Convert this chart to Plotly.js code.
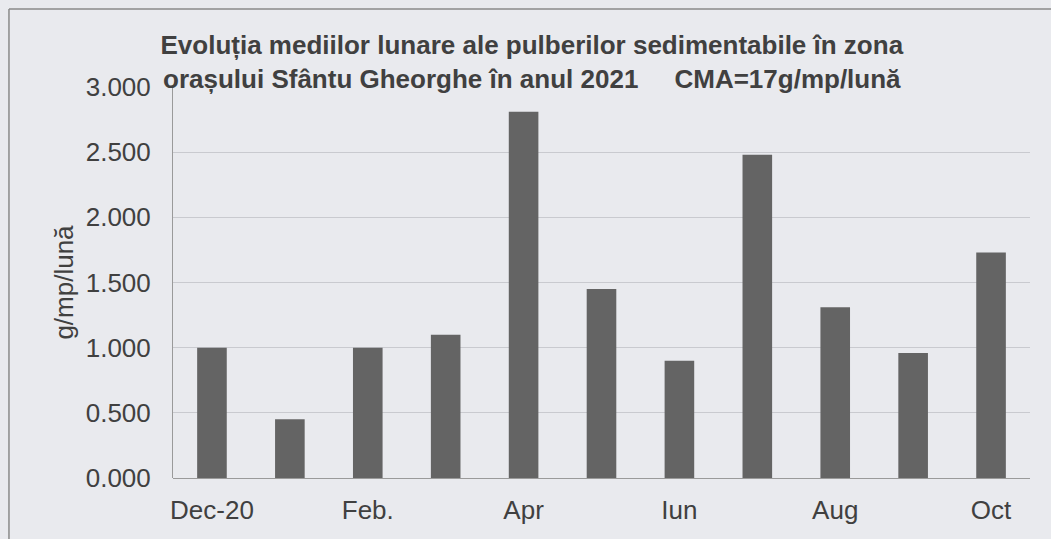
<!DOCTYPE html>
<html>
<head>
<meta charset="utf-8">
<script src="https://cdn.plot.ly/plotly-3.0.1.min.js"></script>
<style>html,body{margin:0;padding:0;background:#e9eaee;}#chart{width:1051px;height:539px;}</style>
</head>
<body>
<div id="chart"></div>
<script>
const months = ["Dec-20", "Ian", "Feb.", "Mar", "Apr", "Mai", "Iun", "Iul", "Aug", "Sep", "Oct"];
const values = [1.00, 0.45, 1.00, 1.10, 2.81, 1.45, 0.90, 2.48, 1.31, 0.96, 1.73];
const tickLabels = ["Dec-20", "Feb.", "Apr", "Iun", "Aug", "Oct"];
const yTicks = [0, 0.5, 1, 1.5, 2, 2.5, 3];

const trace = {
  type: "bar",
  x: months,
  y: values,
  marker: {color: "#646464", line: {width: 0}},
  width: 0.38,
  hoverinfo: "x+y"
};

const layout = {
  width: 1051,
  height: 539,
  paper_bgcolor: "#e9eaee",
  plot_bgcolor: "#e9eaee",
  font: {family: "Liberation Sans, Arial, sans-serif", color: "#404040", size: 26},
  margin: {l: 173, r: 21, t: 87, b: 61},
  title: {
    text: "<b>Evoluția mediilor lunare ale pulberilor sedimentabile în zona<br>orașului Sfântu Gheorghe în anul 2021\u00A0\u00A0\u00A0\u00A0\u00A0CMA=17g/mp/lună</b>",
    font: {size: 26, color: "#404040"},
    x: 0.506, xanchor: "center",
    y: 0.90, yanchor: "top"
  },
  xaxis: {
    type: "category",
    tickmode: "array",
    tickvals: tickLabels,
    ticktext: tickLabels,
    showgrid: false,
    showline: false,
    ticks: "",
    ticklabelstandoff: 14,
    tickfont: {size: 26, color: "#404040"},
    zeroline: false
  },
  yaxis: {
    range: [0, 3],
    tickmode: "array",
    tickvals: yTicks,
    tickformat: ".3f",
    showgrid: true,
    gridcolor: "#c9cacf",
    gridwidth: 1,
    showline: true,
    linecolor: "#9a9a9a",
    linewidth: 1,
    zeroline: true,
    zerolinecolor: "#9a9a9a",
    zerolinewidth: 1,
    ticks: "",
    ticklabelstandoff: 16,
    tickfont: {size: 26, color: "#404040"},
    title: {text: "g/mp/lună", font: {size: 26, color: "#404040"}, standoff: 4}
  },
  shapes: [
    {type: "line", xref: "paper", yref: "paper", x0: -0.1914, x1: -0.1914, y0: -0.25, y1: 1.1995,
     line: {color: "#8a8a8a", width: 1.5}, layer: "above"},
    {type: "line", xref: "paper", yref: "paper", x0: -0.1914, x1: 1.05, y0: 1.1995, y1: 1.1995,
     line: {color: "#8a8a8a", width: 1.5}, layer: "above"}
  ],
  showlegend: false
};

Plotly.newPlot("chart", [trace], layout, {displayModeBar: false, staticPlot: true});
</script>
</body>
</html>
